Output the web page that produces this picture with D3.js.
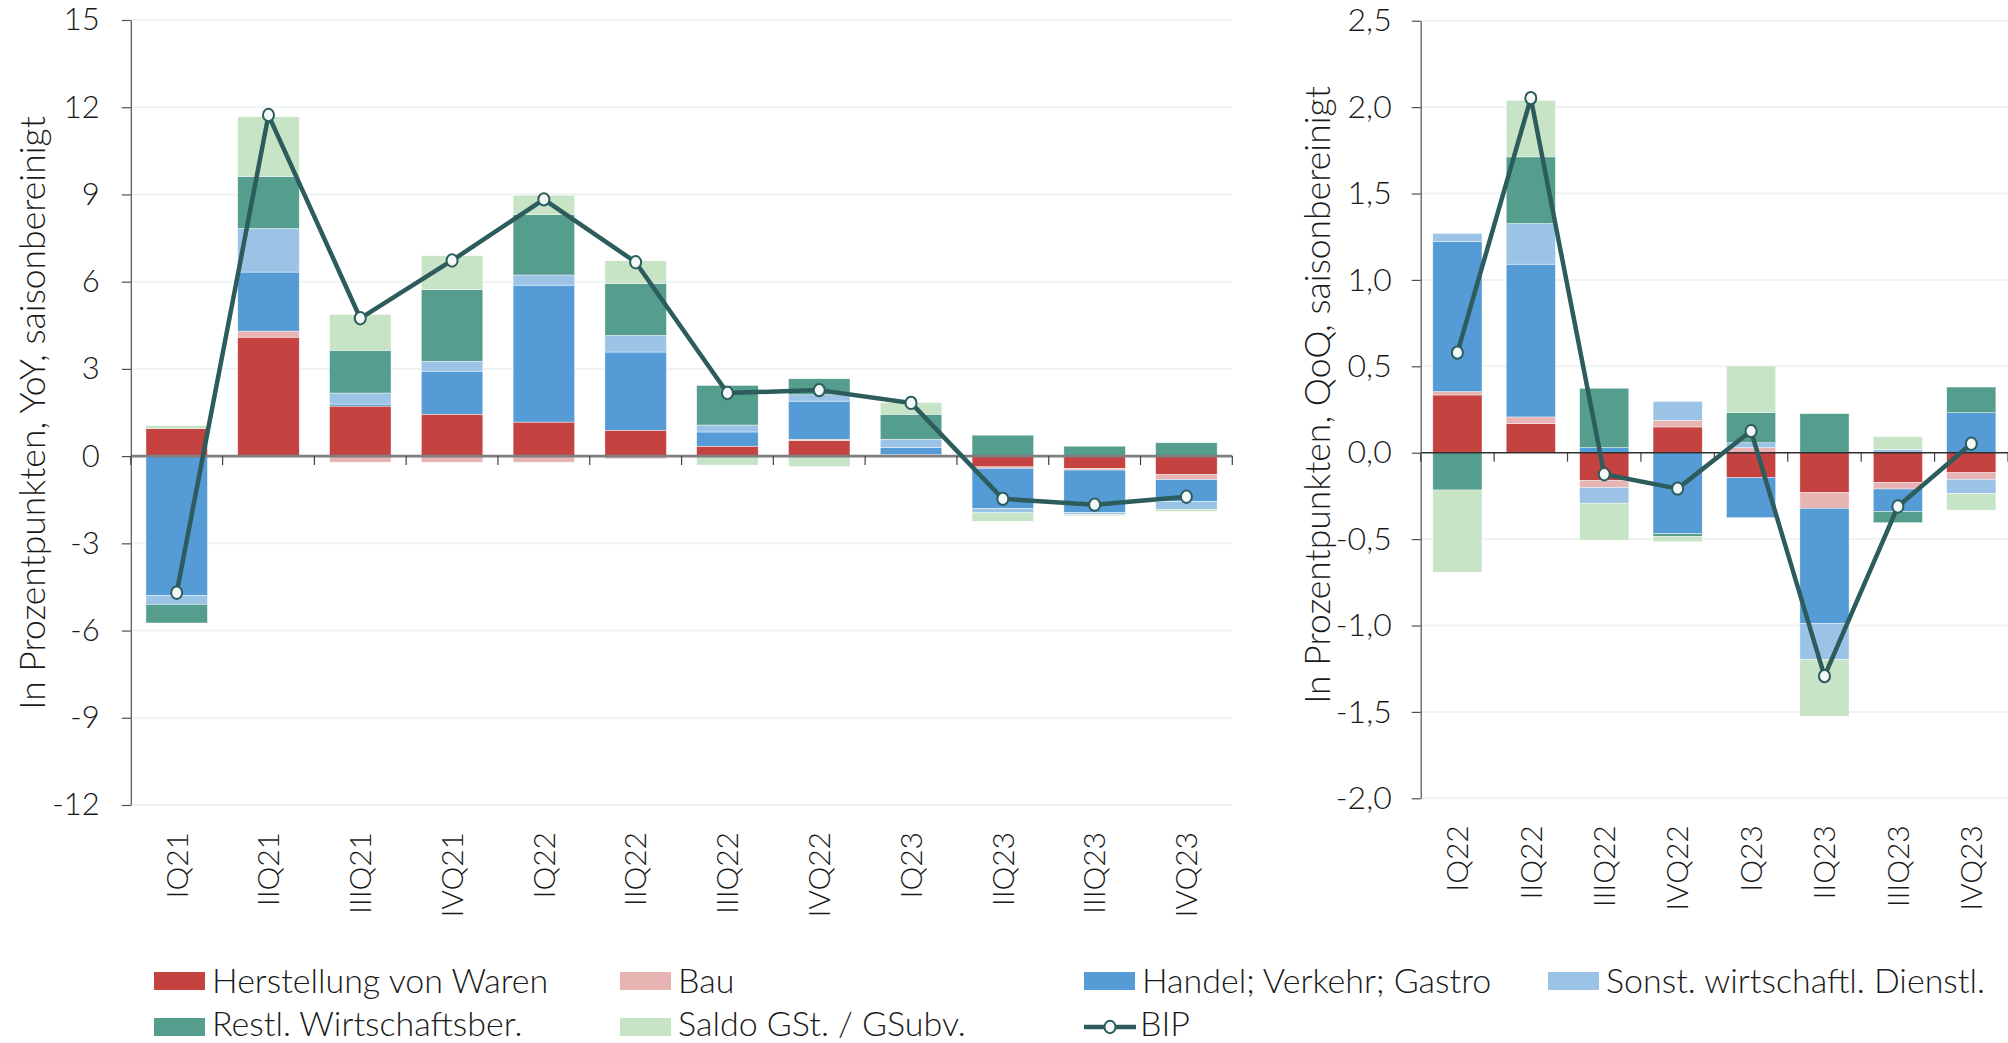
<!DOCTYPE html>
<html>
<head>
<meta charset="utf-8">
<script src="https://cdn.jsdelivr.net/npm/d3@7"></script>
<style>
  html, body { margin: 0; padding: 0; background: #ffffff; }
  svg { display: block; font-family: "Lato", "Open Sans", sans-serif; font-weight: 300; }
</style>
</head>
<body>
<svg id="chart" width="2008" height="1043"></svg>
<script>
// ---------------- DATA ----------------
const categoriesYoY = ["IQ21","IIQ21","IIIQ21","IVQ21","IQ22","IIQ22","IIIQ22","IVQ22","IQ23","IIQ23","IIIQ23","IVQ23"];
const herstellungYoY = [0.95, 4.09, 1.72, 1.44, 1.17, 0.89, 0.34, 0.53, 0.03, -0.37, -0.42, -0.64];
const bauYoY         = [0.00, 0.21, -0.21, -0.21, -0.21, -0.09, 0.00, 0.05, 0.03, -0.05, -0.06, -0.17];
const handelYoY      = [-4.79, 2.03, 0.07, 1.48, 4.71, 2.69, 0.49, 1.31, 0.23, -1.38, -1.46, -0.75];
const sonstYoY       = [-0.31, 1.50, 0.38, 0.34, 0.35, 0.57, 0.24, 0.22, 0.29, -0.15, -0.06, -0.27];
const restlYoY       = [-0.64, 1.79, 1.47, 2.47, 2.08, 1.79, 1.36, 0.55, 0.86, 0.72, 0.34, 0.46];
const saldoYoY       = [0.10, 2.05, 1.23, 1.16, 0.66, 0.78, -0.31, -0.36, 0.40, -0.29, -0.05, -0.07];
const bipYoY         = [-4.70, 11.73, 4.74, 6.73, 8.83, 6.67, 2.17, 2.27, 1.83, -1.47, -1.67, -1.40];

const categoriesQoQ = ["IQ22","IIQ22","IIIQ22","IVQ22","IQ23","IIQ23","IIIQ23","IVQ23"];
const herstellungQoQ = [0.334, 0.168, -0.162, 0.149, -0.145, -0.230, -0.172, -0.116];
const bauQoQ         = [0.020, 0.039, -0.039, 0.038, 0.029, -0.092, -0.038, -0.038];
const handelQoQ      = [0.869, 0.884, 0.029, -0.469, -0.231, -0.666, -0.130, 0.232];
const sonstQoQ       = [0.046, 0.235, -0.091, 0.110, 0.029, -0.209, 0.019, -0.083];
const restlQoQ       = [-0.216, 0.386, 0.344, -0.016, 0.174, 0.226, -0.065, 0.148];
const saldoQoQ       = [-0.475, 0.327, -0.214, -0.030, 0.270, -0.328, 0.074, -0.095];
const bipQoQ         = [0.579, 2.052, -0.125, -0.208, 0.125, -1.293, -0.311, 0.052];

const seriesNames = ["Herstellung von Waren", "Bau", "Handel; Verkehr; Gastro", "Sonst. wirtschaftl. Dienstl.", "Restl. Wirtschaftsber.", "Saldo GSt. / GSubv."];
const lineName = "BIP";
const ticksYoY = [-12, -9, -6, -3, 0, 3, 6, 9, 12, 15];
const ticksQoQ = [-2, -1.5, -1, -0.5, 0, 0.5, 1, 1.5, 2, 2.5];
const titleYoY = "In Prozentpunkten, YoY, saisonbereinigt";
const titleQoQ = "In Prozentpunkten, QoQ, saisonbereinigt";

// ---------------- STYLE ----------------
const colors = ["#C44341", "#E7B3B3", "#559BD5", "#9BC3E6", "#559E8D", "#C7E4C7"];
const lineColor = "#2D5C5C";
const gridColor = "#EEF4F2";
const textColor = "#1a1a1a";

const svg = d3.select("#chart");
const locale = d3.formatLocale({decimal: ",", thousands: ".", grouping: [3], currency: ["", "€"], minus: "-"});

function drawPanel(cfg) {
  const {cats, seriesArrays, bip, ticks, fmt, x0, x1, yTop, yBot, domain, title, titleX, titleY, zeroColor, zeroWidth, labelPad, tickFont} = cfg;
  const g = svg.append("g");
  const x = d3.scaleBand().domain(cats).range([x0, x1]).paddingInner(0.33).paddingOuter(0.165);
  const y = d3.scaleLinear().domain(domain).range([yBot, yTop]);

  // grid
  g.append("g").selectAll("line").data(ticks.filter(t => t !== 0)).join("line")
    .attr("x1", x0).attr("x2", x1)
    .attr("y1", d => y(d)).attr("y2", d => y(d))
    .attr("stroke", gridColor).attr("stroke-width", 2);

  // stacked bars
  const rows = cats.map((c, i) => {
    const o = {cat: c};
    seriesArrays.forEach((arr, k) => o["s" + k] = arr[i]);
    return o;
  });
  const keys = seriesArrays.map((_, k) => "s" + k);
  const stacked = d3.stack().keys(keys).offset(d3.stackOffsetDiverging)(rows);
  g.append("g").selectAll("g").data(stacked).join("g")
    .attr("fill", (d, k) => colors[k])
    .selectAll("rect").data(d => d).join("rect")
    .attr("x", d => x(d.data.cat))
    .attr("width", x.bandwidth())
    .attr("y", d => y(Math.max(d[0], d[1])))
    .attr("height", d => Math.abs(y(d[0]) - y(d[1])))
    .attr("stroke", "#ffffff").attr("stroke-width", 0.6).attr("stroke-opacity", 0.7);

  // zero line
  g.append("line").attr("x1", x0).attr("x2", x1).attr("y1", y(0)).attr("y2", y(0))
    .attr("stroke", zeroColor).attr("stroke-width", zeroWidth);

  // category boundary ticks on zero line
  const step = x.step();
  g.append("g").selectAll("line").data(d3.range(cats.length + 1)).join("line")
    .attr("x1", i => x0 + i * step).attr("x2", i => x0 + i * step)
    .attr("y1", y(0)).attr("y2", y(0) + 9)
    .attr("stroke", "#404040").attr("stroke-width", 1.2);

  // y axis
  const ya = g.append("g").attr("transform", `translate(${x0},0)`)
    .call(d3.axisLeft(y).tickValues(ticks).tickFormat(fmt).tickSize(9).tickSizeOuter(0).tickPadding(labelPad));
  ya.select(".domain").attr("stroke", "#505050").attr("stroke-width", 1.2);
  ya.selectAll(".tick line").attr("stroke", "#505050").attr("stroke-width", 1.2);
  ya.selectAll("text").attr("font-size", tickFont).attr("fill", textColor).attr("font-family", "Lato").attr("font-weight", 300);

  // x labels
  const xa = g.append("g").attr("transform", `translate(0,${yBot})`)
    .call(d3.axisBottom(x).tickSize(0).tickPadding(0));
  xa.select(".domain").remove();
  xa.selectAll("text")
    .attr("transform", "rotate(-90)")
    .attr("y", 0).attr("x", -27).attr("dy", "0.36em")
    .style("text-anchor", "end")
    .attr("font-size", 30).attr("fill", textColor).attr("font-family", "Lato").attr("font-weight", 300);

  // BIP line
  const cx = i => x(cats[i]) + x.bandwidth() / 2;
  g.append("path").datum(bip)
    .attr("fill", "none").attr("stroke", lineColor).attr("stroke-width", 4.5).attr("stroke-linejoin", "round")
    .attr("d", d3.line().x((d, i) => cx(i)).y(d => y(d)));
  g.append("g").selectAll("ellipse").data(bip).join("ellipse")
    .attr("cx", (d, i) => cx(i)).attr("cy", d => y(d))
    .attr("rx", 5.5).attr("ry", 6.2)
    .attr("fill", "#F3F9F9").attr("stroke", lineColor).attr("stroke-width", 2);

  // y title
  svg.append("text")
    .attr("transform", `translate(${titleX},${titleY}) rotate(-90)`)
    .attr("text-anchor", "middle").attr("dominant-baseline", "central")
    .attr("font-size", 35.5).attr("fill", textColor)
    .text(title);
}

drawPanel({
  cats: categoriesYoY,
  seriesArrays: [herstellungYoY, bauYoY, handelYoY, sonstYoY, restlYoY, saldoYoY],
  bip: bipYoY, ticks: ticksYoY, fmt: locale.format("d"),
  x0: 130.8, x1: 1232.3, yTop: 20, yBot: 805, domain: [-12, 15],
  title: titleYoY, titleX: 31, titleY: 413,
  zeroColor: "#7F7F7F", zeroWidth: 2.6, labelPad: 22, tickFont: 31
});

drawPanel({
  cats: categoriesQoQ,
  seriesArrays: [herstellungQoQ, bauQoQ, handelQoQ, sonstQoQ, restlQoQ, saldoQoQ],
  bip: bipQoQ, ticks: ticksQoQ, fmt: locale.format(".1f"),
  x0: 1420.7, x1: 2008, yTop: 20.7, yBot: 798.3, domain: [-2, 2.5],
  title: titleQoQ, titleX: 1316, titleY: 395,
  zeroColor: "#303030", zeroWidth: 1.6, labelPad: 20, tickFont: 32
});

// ---------------- LEGEND ----------------
const legendPos = [
  {x: 154, y: 981, base: 993}, {x: 620, y: 981, base: 993}, {x: 1084, y: 981, base: 993}, {x: 1548, y: 981, base: 993},
  {x: 154, y: 1027, base: 1036}, {x: 620, y: 1027, base: 1036}
];
const legendFont = 34;
const lg = svg.append("g");
seriesNames.forEach((name, k) => {
  const p = legendPos[k];
  lg.append("rect").attr("x", p.x).attr("y", p.y - 9).attr("width", 51).attr("height", 18).attr("fill", colors[k]);
  lg.append("text").attr("x", p.x + 58).attr("y", p.base)
    .attr("font-size", legendFont).attr("fill", textColor).text(name);
});
const bp = {x: 1084, y: 1027, base: 1036};
lg.append("line").attr("x1", bp.x).attr("x2", bp.x + 52).attr("y1", bp.y).attr("y2", bp.y)
  .attr("stroke", lineColor).attr("stroke-width", 4.5);
lg.append("ellipse").attr("cx", bp.x + 26).attr("cy", bp.y).attr("rx", 5.5).attr("ry", 6.2)
  .attr("fill", "#F3F9F9").attr("stroke", lineColor).attr("stroke-width", 2);
lg.append("text").attr("x", bp.x + 56).attr("y", bp.base)
  .attr("font-size", legendFont).attr("fill", textColor).text(lineName);
</script>
</body>
</html>
